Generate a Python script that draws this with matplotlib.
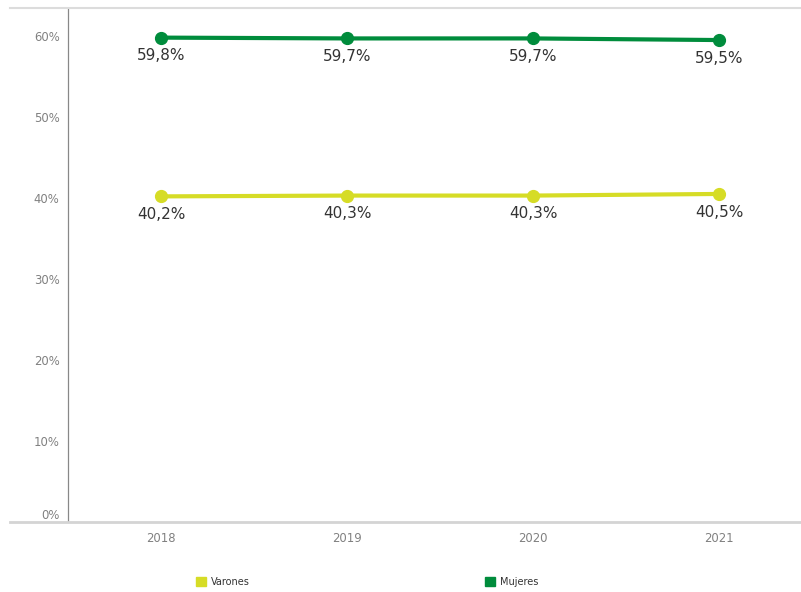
import matplotlib.pyplot as plt
from matplotlib.lines import Line2D
from matplotlib.patches import Patch

years = ['2018', '2019', '2020', '2021']
varones = [40.2, 40.3, 40.3, 40.5]
mujeres = [59.8, 59.7, 59.7, 59.5]
y_ticks = [0, 10, 20, 30, 40, 50, 60]

color_varones = '#d6dc26'
color_mujeres = '#008c3c'

fig = plt.figure(figsize=(8.01, 5.92), dpi=100)
ax = fig.add_axes([68 / 801, 1 - 522 / 592, 1 - 68 / 801, (522 - 8) / 592])

x = list(range(len(years)))
for vals, col in [(varones, color_varones), (mujeres, color_mujeres)]:
    ax.plot(x, vals, color=col, lw=3, marker='o', ms=8.5, solid_capstyle='round', zorder=3)
    for xi, v in zip(x, vals):
        ax.annotate(f'{v:.1f}%'.replace('.', ','), (xi, v), xytext=(0, -13),
                    textcoords='offset points', ha='center', va='center',
                    fontsize=11, color='#333333')

ax.set_xlim(-0.5, (801 - 161) / 186)
ax.set_ylim(0, (522 - 8) / 8.1)
ax.set_xticks(x)
ax.set_xticklabels(years)
ax.set_yticks(y_ticks)
ax.set_yticklabels([f'{t}%' for t in y_ticks])
ax.tick_params(length=0, labelsize=8.4, colors='#808080', pad=6)
ax.tick_params(axis='x', pad=7)
# 0% label sits just above the base rule
ax.get_yticklabels()[0].set_va('bottom')

for s in ['top', 'right', 'bottom']:
    ax.spines[s].set_visible(False)
ax.spines['left'].set_color('#888888')
ax.spines['left'].set_linewidth(0.9)

# light grey top and bottom rules that run past the y axis
fig.add_artist(Line2D([10 / 801, 1], [1 - 8 / 592] * 2, color='#dcdcdc', lw=1.5))
fig.add_artist(Line2D([10 / 801, 1], [1 - 522 / 592] * 2, color='#d4d4d4', lw=2))

handles = [Patch(color=color_varones, label='Varones'),
           Patch(color=color_mujeres, label='Mujeres')]
leg = fig.legend(handles=handles, loc='center left', bbox_to_anchor=(187 / 801, 1 - 582 / 592),
                 ncol=2, frameon=False, fontsize=7, handlelength=1.05, handleheight=1.05,
                 handletextpad=0.5, columnspacing=24.2)
for t in leg.get_texts():
    t.set_color('#333333')

fig.savefig('out.png', dpi=100)
